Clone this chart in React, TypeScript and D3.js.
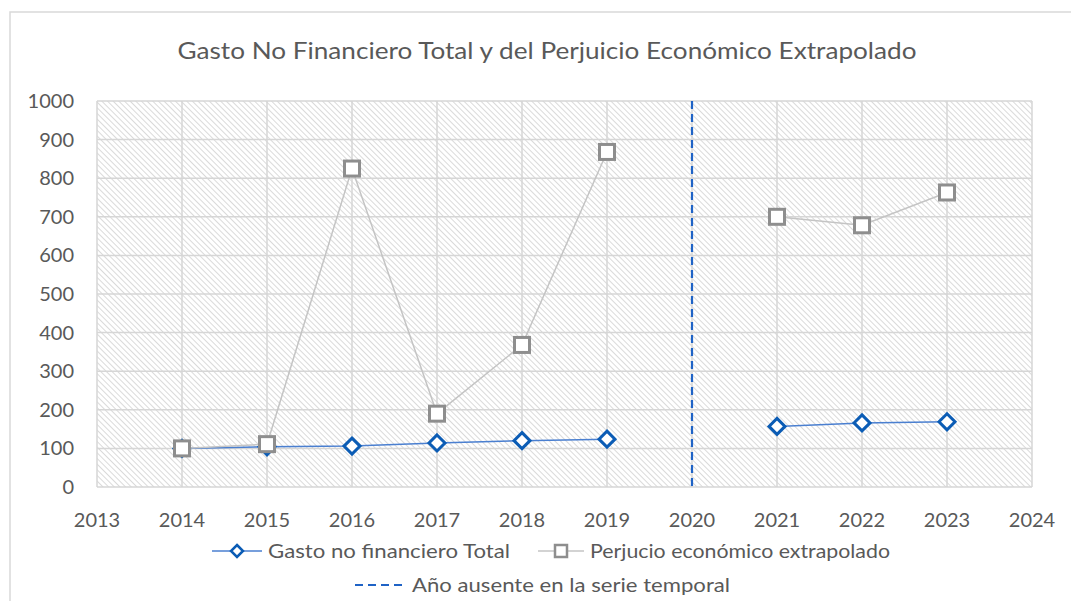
import React from 'react';
import * as d3 from 'd3';

// years on the axis and the two series (2020 is missing in the series)
const years = [2014, 2015, 2016, 2017, 2018, 2019, 2020, 2021, 2022, 2023];
const gasto = [100, 104, 106, 114, 120, 124, null, 157, 166, 169];
const perjuicio = [100, 111, 825, 190, 368, 868, null, 700, 678, 763];
const yTicks = [0, 100, 200, 300, 400, 500, 600, 700, 800, 900, 1000];
const xTicks = [2013, 2014, 2015, 2016, 2017, 2018, 2019, 2020, 2021, 2022, 2023, 2024];
const missingYear = 2020;

const title = 'Gasto No Financiero Total y del Perjuicio Económico Extrapolado';
const legendNames = ['Gasto no financiero Total', 'Perjucio económico extrapolado', 'Año ausente en la serie temporal'];

const W = 1071;
const H = 601;
const margin = { top: 101, right: 39, bottom: 114, left: 97 };
const font = 'Lato, "Open Sans", sans-serif';
const textColor = '#595959';
const blue = '#0b5cb5';
const blueLine = '#4a7fd0';
const grayLine = '#c4c4c4';
const grayMarker = '#8e8e8e';

export default function App() {
  const x = d3.scaleLinear().domain([2013, 2024]).range([margin.left, W - margin.right]);
  const y = d3.scaleLinear().domain([0, 1000]).range([H - margin.bottom, margin.top]);

  const line = d3.line<number | null>()
    .defined(d => d != null)
    .x((d, i) => x(years[i]))
    .y(d => y(d as number));

  const diamond = (cx: number, cy: number, r: number) =>
    `M${cx},${cy - r}L${cx + r},${cy}L${cx},${cy + r}L${cx - r},${cy}Z`;

  const plotTop = y(1000);
  const plotBottom = y(0);

  return (
    <svg width={W} height={H} style={{ position: 'absolute', left: 0, top: 0, background: '#fff' }}>
      <defs>
        <pattern id="hatch" width="4" height="4" patternUnits="userSpaceOnUse" patternTransform="rotate(-45)">
          <line x1="0" y1="0" x2="0" y2="4" stroke="#c6c6c6" strokeWidth="1.3" />
        </pattern>
      </defs>
      {/* outer chart frame */}
      <rect x={10} y={12} width={W + 20} height={H + 20} fill="#fff" stroke="#d9d9d9" strokeWidth={1.5} />
      <text x={547} y={59} textAnchor="middle" fontFamily={font} fontSize={24} fill={textColor}
        textLength={739} lengthAdjust="spacingAndGlyphs">{title}</text>

      {/* hatched plot background */}
      <rect x={x(2013)} y={plotTop} width={x(2024) - x(2013)} height={plotBottom - plotTop} fill="url(#hatch)" />

      {/* grid */}
      {yTicks.map(t => (
        <line key={'gy' + t} x1={x(2013)} x2={x(2024)} y1={y(t)} y2={y(t)} stroke="#d6d6d6" strokeWidth={1.5} />
      ))}
      {xTicks.map(t => (
        <line key={'gx' + t} x1={x(t)} x2={x(t)} y1={plotTop} y2={plotBottom} stroke="#d6d6d6" strokeWidth={1.5} />
      ))}

      {/* axis labels */}
      {yTicks.map(t => (
        <text key={'ty' + t} x={74} y={y(t) + 7} textAnchor="end" fontFamily={font} fontSize={20} fill={textColor}>{t}</text>
      ))}
      {xTicks.map(t => (
        <text key={'tx' + t} x={x(t)} y={527} textAnchor="middle" fontFamily={font} fontSize={20} fill={textColor}>{t}</text>
      ))}

      {/* missing year marker */}
      <line x1={x(missingYear)} x2={x(missingYear)} y1={plotTop} y2={plotBottom} stroke="#1f63c6" strokeWidth={2.2} strokeDasharray="8,5" />

      {/* series */}
      <path d={line(gasto) || ''} fill="none" stroke={blueLine} strokeWidth={1.5} />
      {gasto.map((v, i) => v == null ? null : (
        <path key={'g' + i} d={diamond(x(years[i]), y(v), 8)} fill="#fff" stroke={blue} strokeWidth={3} />
      ))}
      <path d={line(perjuicio) || ''} fill="none" stroke={grayLine} strokeWidth={1.5} />
      {perjuicio.map((v, i) => v == null ? null : (
        <rect key={'p' + i} x={x(years[i]) - 7.5} y={y(v) - 7.5} width={15} height={15} fill="#fff" stroke={grayMarker} strokeWidth={3} />
      ))}

      {/* legend */}
      <g fontFamily={font} fontSize={20} fill={textColor}>
        <line x1={212} x2={262} y1={551} y2={551} stroke={blueLine} strokeWidth={1.5} />
        <path d={diamond(237, 551, 6)} fill="#fff" stroke={blue} strokeWidth={2.5} />
        <text x={268} y={558} textLength={242} lengthAdjust="spacingAndGlyphs">{legendNames[0]}</text>
        <line x1={538} x2={584} y1={551} y2={551} stroke={grayLine} strokeWidth={1.5} />
        <rect x={555} y={545} width={12} height={12} fill="#fff" stroke={grayMarker} strokeWidth={2.5} />
        <text x={590} y={558} textLength={300} lengthAdjust="spacingAndGlyphs">{legendNames[1]}</text>
        <line x1={355} x2={405} y1={585} y2={585} stroke="#1f63c6" strokeWidth={2.2} strokeDasharray="8,5" />
        <text x={412} y={592} textLength={318} lengthAdjust="spacingAndGlyphs">{legendNames[2]}</text>
      </g>
    </svg>
  );
}
